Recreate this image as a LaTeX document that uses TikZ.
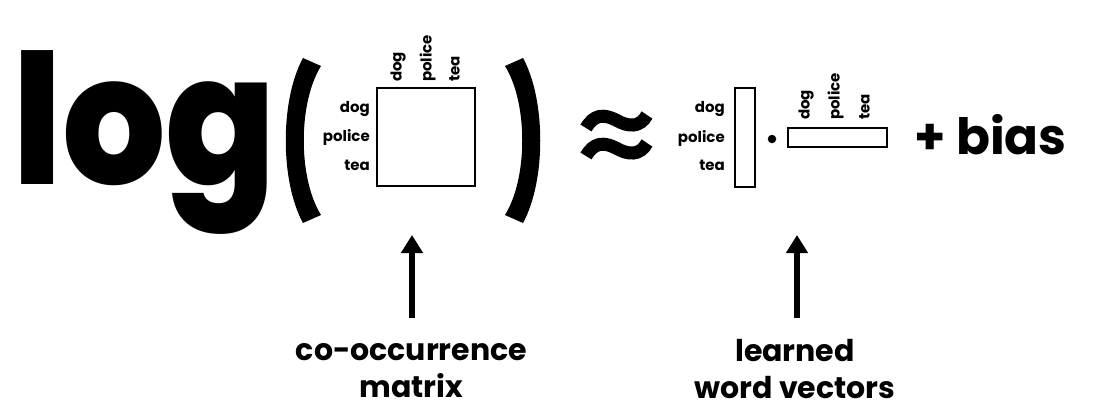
\documentclass[tikz,border=0pt]{standalone}
\usepackage{fontspec}
\setmainfont{Poppins}
\IfFontExistsTF{Poppins ExtraBold}{\newfontfamily\heavy{Poppins ExtraBold}}{\newfontfamily\heavy{Poppins}[UprightFeatures={FakeBold=1}]}
\usetikzlibrary{arrows.meta}
\begin{document}
\begin{tikzpicture}[x=1bp,y=-1bp,
  lbl/.style={font=\bfseries\fontsize{15bp}{15bp}\selectfont, inner sep=0pt},
  box/.style={draw, line width=2bp, inner sep=0pt},
  bigtxt/.style={font=\bfseries\fontsize{30bp}{30bp}\selectfont, inner sep=0pt, anchor=base},
  uparrow/.style={line width=5.5bp, -{Triangle[length=18bp,width=21bp]}},
  tilde/.style={line width=13bp}]
\useasboundingbox (0,0) rectangle (1101,415);
\fill[white] (0,0) rectangle (1101,415);

% log
\node[font=\heavy\fontsize{181bp}{181bp}\selectfont, anchor=base west, inner sep=0pt] (log) at (12,184) {\scalebox{0.9}[1]{log}};

% parentheses
\fill (303,58) .. controls (280,100) and (280,181) .. (303,223)
  -- (321,215) .. controls (298,178) and (298,103) .. (321,66) -- cycle;
\fill (523,58) .. controls (546,100) and (546,181) .. (523,223)
  -- (505,215) .. controls (528,178) and (528,103) .. (505,66) -- cycle;

% co-occurrence matrix
\node[box, minimum width=98bp, minimum height=98bp] (M) at (426,137) {};
\node[lbl, anchor=mid east] (mr1) at (370,110) {dog};
\node[lbl, anchor=mid east] (mr2) at (370,139) {police};
\node[lbl, anchor=mid east] (mr3) at (370,168) {tea};
\node[lbl, rotate=90, anchor=mid west] (mc1) at (399,82) {dog};
\node[lbl, rotate=90, anchor=mid west] (mc2) at (429,82) {police};
\node[lbl, rotate=90, anchor=mid west] (mc3) at (457,82) {tea};

% approx
\draw[tilde] (586,128) .. controls (594,114) and (604,114) .. (616,120) .. controls (628,127) and (640,128) .. (647,115);
\draw[tilde] (586,156) .. controls (594,142) and (604,142) .. (616,148) .. controls (628,155) and (640,156) .. (647,143);

% vertical vector
\node[box, minimum width=20bp, minimum height=99bp] (V) at (745,137.5) {};
\node[lbl, anchor=mid east] (vr1) at (725,110) {dog};
\node[lbl, anchor=mid east] (vr2) at (725,140) {police};
\node[lbl, anchor=mid east] (vr3) at (725,168) {tea};

% dot
\node[circle, fill, inner sep=0pt, minimum size=8.5bp] (dot) at (772,139) {};

% horizontal vector
\node[box, minimum width=99bp, minimum height=19bp] (H) at (837.5,137.5) {};
\node[lbl, rotate=90, anchor=mid west] (hc1) at (807,120) {dog};
\node[lbl, rotate=90, anchor=mid west] (hc2) at (837,120) {police};
\node[lbl, rotate=90, anchor=mid west] (hc3) at (867,120) {tea};

% + bias
\node[font=\bfseries\fontsize{50bp}{50bp}\selectfont, anchor=base west, inner sep=0pt] (bias) at (914,154) {+ bias};

% bottom labels
\node[bigtxt] (cooc) at (411.5,360) {co-occurrence};
\node[bigtxt] (matrix) at (411.5,397) {matrix};
\node[bigtxt] (learned) at (795,361) {learned};
\node[bigtxt] (wv) at (795,398) {word vectors};

% arrows
\coordinate (a1b) at (412,318);
\coordinate (a1t) at (412,235);
\coordinate (a2b) at (797,318);
\coordinate (a2t) at (797,235);
\draw[uparrow] (a1b) -- (a1t);
\draw[uparrow] (a2b) -- (a2t);
\end{tikzpicture}
\end{document}
